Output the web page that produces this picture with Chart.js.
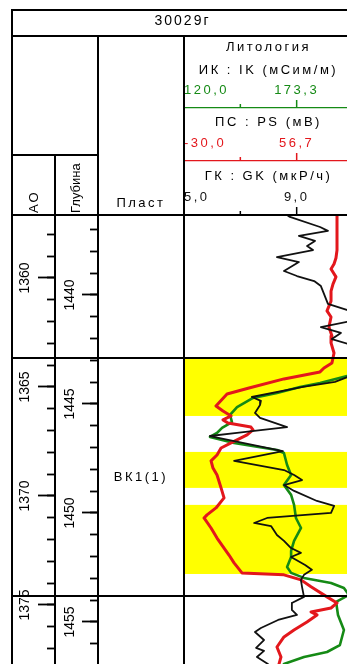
<!DOCTYPE html>
<html>
<head>
<meta charset="utf-8">
<script src="https://cdn.jsdelivr.net/npm/chart.js@4.4.1/dist/chart.umd.min.js"></script>
<style>
  html, body { margin: 0; padding: 0; background: #fff; overflow: hidden; }
  #sheet { width: 347px; height: 664px; overflow: hidden; position: relative; }
  canvas { display: block; }
</style>
</head>
<body>
<div id="sheet"><canvas id="log" width="353" height="664"></canvas></div>
<script>
// ---- well and depth frame ----
const wellName = '30029г';
const depthRange = [1436.33, 1456.93];   // measured depth shown in the track, m
const aoShift = 79.22;                    // absolute mark = depth - shift
const depthLabels = [1440, 1445, 1450, 1455];
const aoLabels = [1360, 1365, 1370, 1375];

// ---- curve scales (header ticks) ----
const ikTicks = [120, 146.67, 173.33, 200];
const psTicks = [-30, 13.33, 56.67, 100];
const gkTicks = [5, 7, 9, 11];
const labelledTicks = [0, 2];

// ---- bed and reservoir intervals ----
const bedName = 'ВК1(1)';
const bedTop = 1442.89;
const bedBottom = 1453.81;
const reservoirTops = [1442.89, 1447.20, 1449.63];
const reservoirBottoms = [1445.55, 1448.85, 1452.80];

// ---- log curves: [depth, value] ----
const gkLog = [
  [1436.33, 8.66], [1436.42, 8.76], [1436.88, 9.83], [1437.06, 10.11], [1437.29, 9.08],
  [1437.52, 9.65], [1437.75, 9.37], [1437.94, 9.58], [1438.26, 8.30], [1438.49, 9.08],
  [1438.90, 8.55], [1439.13, 9.01], [1439.36, 9.62], [1439.59, 9.86], [1439.95, 9.97],
  [1440.41, 10.11], [1440.73, 10.89], [1441.06, 11.43], [1441.47, 9.86], [1441.74, 10.57],
  [1442.02, 10.25], [1442.34, 11.07], [1442.75, 11.6], [1443.26, 11.8], [1443.72, 10.89],
  [1443.99, 10.36], [1444.22, 9.22], [1444.68, 7.41], [1444.86, 7.73], [1445.05, 7.70],
  [1445.41, 7.52], [1445.64, 7.70], [1446.06, 8.66], [1446.19, 7.80], [1446.33, 6.88],
  [1446.47, 5.92], [1447.16, 8.51], [1447.61, 6.78], [1448.03, 8.55], [1448.26, 8.91],
  [1448.49, 9.19], [1448.72, 8.55], [1448.99, 8.91], [1449.45, 9.72], [1449.68, 10.33],
  [1450.00, 10.22], [1450.23, 7.95], [1450.46, 7.49], [1450.60, 8.09], [1451.01, 8.30],
  [1451.28, 8.55], [1451.61, 8.80], [1451.83, 9.15], [1452.02, 8.80], [1452.39, 9.30],
  [1452.61, 9.54], [1452.84, 9.26], [1453.07, 9.15], [1453.39, 9.19], [1453.85, 9.26],
  [1454.13, 8.83], [1454.45, 8.83], [1454.68, 9.01], [1454.91, 8.34], [1455.28, 7.73],
  [1455.46, 7.52], [1455.83, 7.84], [1456.19, 7.56], [1456.33, 7.84], [1456.61, 7.59],
  [1456.93, 7.98]
];
const psLog = [
  [1436.33, 87.7], [1437.94, 87.7], [1438.30, 86.9], [1438.58, 85.4], [1438.81, 83.1],
  [1439.17, 86.9], [1439.50, 84.6], [1439.82, 83.1], [1440.28, 83.1], [1440.73, 80.0],
  [1441.01, 83.1], [1441.47, 81.5], [1441.88, 83.8], [1442.20, 83.1], [1442.66, 85.4],
  [1443.12, 83.8], [1443.35, 77.7], [1443.53, 74.6], [1443.85, 46.9], [1444.27, 20.0],
  [1444.54, 3.1], [1445.09, -5.4], [1445.32, 0.0], [1445.55, 6.2], [1445.73, 0.0],
  [1445.87, 3.8], [1446.06, 21.5], [1446.19, 23.1], [1446.42, 18.5], [1446.74, 7.7],
  [1447.02, -1.5], [1447.34, -4.6], [1447.61, -9.2], [1447.94, -7.7], [1448.26, -4.6],
  [1448.85, -1.5], [1449.31, 0.8], [1449.77, -5.4], [1450.09, -12.3], [1450.23, -14.6],
  [1450.69, -9.2], [1451.15, -4.6], [1451.61, 0.8], [1451.93, 4.6], [1452.29, 8.5],
  [1452.75, 14.6], [1452.84, 46.9], [1453.07, 60.0], [1453.39, 67.7], [1453.85, 80.0],
  [1454.13, 87.7], [1454.36, 83.1], [1454.45, 75.4], [1454.54, 67.7], [1454.68, 72.3],
  [1455.00, 64.6], [1455.37, 54.6], [1455.69, 46.9], [1456.15, 41.5], [1456.61, 44.6],
  [1456.93, 43.1]
];
const ikLog = [
  [1436.33, 235.0], [1443.21, 209.0], [1443.72, 197.2], [1444.04, 184.4], [1444.22, 174.9],
  [1444.50, 164.0], [1444.72, 152.7], [1445.14, 145.1], [1445.50, 141.8], [1445.83, 142.7],
  [1446.10, 138.0], [1446.33, 135.6], [1446.51, 132.3], [1446.79, 143.7], [1447.11, 164.0],
  [1447.25, 167.3], [1447.80, 168.8], [1448.26, 170.7], [1448.72, 167.3], [1449.17, 170.7],
  [1449.63, 172.1], [1450.23, 173.0], [1450.69, 175.4], [1451.28, 172.1], [1451.74, 170.7],
  [1452.02, 170.7], [1452.48, 168.8], [1452.75, 170.7], [1452.98, 176.8], [1453.21, 189.6],
  [1453.44, 195.7], [1453.76, 198.1], [1454.08, 192.0], [1454.68, 192.9], [1455.37, 195.7],
  [1456.06, 193.8], [1456.38, 187.7], [1456.61, 176.8], [1456.93, 167.3]
];

// ---- styling ----
const FONT = "'Liberation Sans', Arial, Helvetica, sans-serif";
const ikColor = '#158a15';
const psColor = '#e3171c';
const gkColor = '#111111';

const toPoints = log => log.map(([d, v]) => ({ x: v, y: d }));
const fmt = v => v.toFixed(1).replace('.', ',');
const fixWidth = w => s => { s.width = w; s.paddingTop = s.paddingBottom = 0; };
const fixHeight = h => s => { s.height = h; s.paddingLeft = s.paddingRight = 0; };
const everyMetre = s => {
  const t = [];
  for (let v = Math.ceil(s.min); v <= s.max; v++) t.push({ value: v });
  s.ticks = t;
};

function curveAxis(ticks, color, title, height, weight, titleFont, titleTop) {
  return {
    type: 'linear', position: 'top', weight,
    min: ticks[0], max: ticks[ticks.length - 1],
    afterBuildTicks: s => { s.ticks = ticks.map(value => ({ value })); },
    afterFit: fixHeight(height),
    grid: { drawOnChartArea: false, drawTicks: false, z: 1 },
    border: { display: true, color, width: 1.2, z: 1 },
    ticks: {
      z: 1, autoSkip: false, maxRotation: 0, minRotation: 0, align: 'inner', padding: 10.2,
      color, font: { family: FONT, size: 13 },
      callback: (v, i) => labelledTicks.includes(i) ? fmt(v) : ''
    },
    title: {
      display: true, text: title, color: '#000',
      font: Object.assign({ family: FONT, size: 13 }, titleFont),
      padding: { top: titleTop, bottom: 0 }
    }
  };
}

function depthAxis(min, max, labels, weight, tickLength, pad) {
  return {
    type: 'linear', position: 'left', weight, reverse: true, min, max,
    afterBuildTicks: s => { s.ticks = labels.map(value => ({ value })); },
    afterFit: fixWidth(43),
    grid: { drawOnChartArea: false, tickLength, tickWidth: 1.8, tickColor: '#000' },
    border: { display: false },
    ticks: {
      autoSkip: false, minRotation: 90, maxRotation: 90, crossAlign: 'center', padding: pad,
      color: '#000', font: { family: FONT, size: 14 }, callback: v => String(v)
    }
  };
}

function minorAxis(min, max, weight) {
  return {
    type: 'linear', position: 'left', weight, reverse: true, min, max,
    afterBuildTicks: everyMetre,
    afterFit: fixWidth(0),
    grid: { drawOnChartArea: false, tickLength: 8, tickWidth: 1.8, tickColor: '#000' },
    border: { display: false },
    ticks: { display: false }
  };
}

function label(ctx, str, x, y, o = {}) {
  ctx.save();
  ctx.font = (o.size || 13) + 'px ' + FONT;
  ctx.fillStyle = o.color || '#000';
  ctx.textAlign = o.align || 'center';
  ctx.textBaseline = 'middle';
  ctx.letterSpacing = (o.spacing || 0) + 'px';
  ctx.translate(x, y);
  if (o.rotate) ctx.rotate(o.rotate);
  ctx.fillText(str, 0, 0);
  ctx.restore();
}

// table frame, reservoir fill and column captions
const logSheet = {
  id: 'logSheet',
  beforeDraw(chart) { chart.ctx.letterSpacing = '0px'; },
  beforeDatasetsDraw(chart) {
    const { ctx, chartArea: a, scales: { y } } = chart;
    ctx.save();
    ctx.fillStyle = '#ffff00';
    reservoirTops.forEach((top, i) => {
      const y0 = y.getPixelForValue(top);
      const y1 = y.getPixelForValue(reservoirBottoms[i]);
      ctx.fillRect(a.left, y0, a.right - a.left, y1 - y0);
    });
    ctx.restore();
  },
  afterDatasetsDraw(chart) { chart.ctx.letterSpacing = '2.5px'; },
  afterDraw(chart) {
    const ctx = chart.ctx;
    ctx.letterSpacing = '0px';
    const { chartArea: a, scales: s } = chart;
    const L = s.aoMajor.left, X1 = s.aoMajor.right, X2 = s.depthMajor.right, X3 = a.left, R = a.right;
    const T = 10, H1 = s.ik.top, H2 = 155, B = chart.height;
    const yTop = s.y.getPixelForValue(bedTop);
    const yBot = s.y.getPixelForValue(bedBottom);

    // short and long scale marks on the curve header lines
    [[s.ik, ikColor], [s.ps, psColor], [s.gk, '#000']].forEach(([sc, col]) => {
      ctx.save();
      ctx.strokeStyle = col;
      ctx.lineWidth = 1.5;
      [[1, 4], [2, 8]].forEach(([i, len]) => {
        const x = sc.getPixelForValue(sc.ticks[i].value);
        ctx.beginPath();
        ctx.moveTo(x, sc.bottom);
        ctx.lineTo(x, sc.bottom - len);
        ctx.stroke();
      });
      ctx.restore();
    });

    ctx.save();
    ctx.strokeStyle = '#000';
    ctx.lineWidth = 2;
    const seg = (x0, y0, x1, y1) => { ctx.beginPath(); ctx.moveTo(x0, y0); ctx.lineTo(x1, y1); ctx.stroke(); };
    seg(L, T, R, T);
    seg(L, H1, R, H1);
    seg(L, H2, X2, H2);
    seg(L, a.top, R, a.top);
    seg(L, yTop, R, yTop);
    seg(L, yBot, R, yBot);
    seg(L, T - 1, L, B);
    seg(X1, H2, X1, B);
    seg(X2, H1, X2, B);
    seg(X3, H1, X3, B);
    ctx.restore();

    label(ctx, wellName, (L + R) / 2, 21.5, { size: 14, spacing: 2 });
    label(ctx, 'АО', 34, 213, { align: 'left', rotate: -Math.PI / 2, spacing: 2 });
    label(ctx, 'Глубина', 76, 213, { align: 'left', rotate: -Math.PI / 2 });
    label(ctx, 'Пласт', (X2 + X3) / 2, 203, { spacing: 2.5 });
    label(ctx, bedName, (X2 + X3) / 2, s.y.getPixelForValue((bedTop + bedBottom) / 2), { spacing: 2.5 });
  }
};

const curve = (data, axis, color, width) => ({
  data, xAxisID: axis, yAxisID: 'y',
  borderColor: color, borderWidth: width,
  pointRadius: 0, tension: 0, fill: false, clip: 0,
  borderJoinStyle: 'round', borderCapStyle: 'round'
});

new Chart(document.getElementById('log'), {
  type: 'line',
  data: {
    datasets: [
      curve(toPoints(gkLog), 'gk', gkColor, 1.8),
      curve(toPoints(psLog), 'ps', psColor, 3),
      curve(toPoints(ikLog), 'ik', ikColor, 2.6)
    ]
  },
  options: {
    indexAxis: 'y',
    responsive: false,
    animation: false,
    events: [],
    layout: { padding: { top: 36, left: 12, right: 0, bottom: 0 } },
    plugins: { legend: { display: false }, tooltip: { enabled: false }, title: { display: false } },
    scales: {
      ik: curveAxis(ikTicks, ikColor, ['Литология', 'ИК : IK (мСим/м)'], 72, 3, { lineHeight: '23px' }, 0),
      ps: curveAxis(psTicks, psColor, 'ПС : PS (мВ)', 53, 2, {}, 6.2),
      gk: curveAxis(gkTicks, gkColor, 'ГК : GK (мкР/ч)', 54, 1, {}, 7.9),
      aoMajor: depthAxis(depthRange[0] - aoShift, depthRange[1] - aoShift, aoLabels, 6, 17, -3),
      aoMinor: minorAxis(depthRange[0] - aoShift, depthRange[1] - aoShift, 5),
      depthMajor: depthAxis(depthRange[0], depthRange[1], depthLabels, 4, 16, -4),
      depthMinor: minorAxis(depthRange[0], depthRange[1], 3),
      y: {
        type: 'linear', position: 'left', weight: 2, reverse: true,
        min: depthRange[0], max: depthRange[1],
        afterFit: fixWidth(86),
        grid: { display: false }, border: { display: false }, ticks: { display: false }
      }
    }
  },
  plugins: [logSheet]
});
</script>
</body>
</html>
